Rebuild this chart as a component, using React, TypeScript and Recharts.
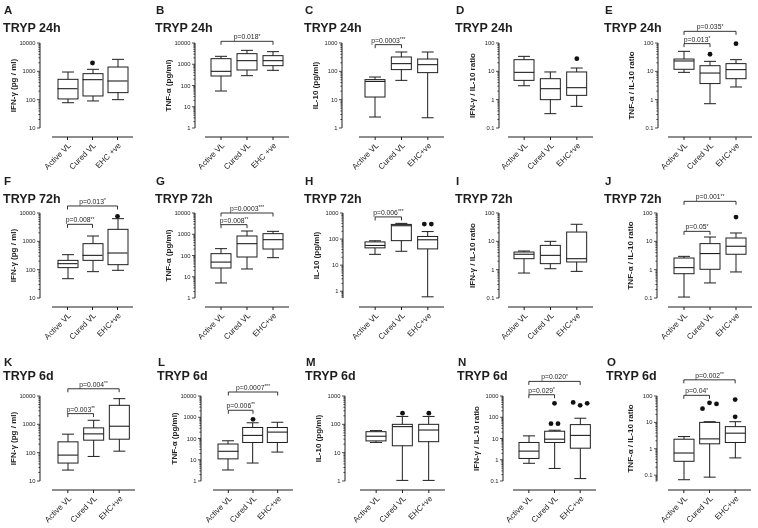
import React from 'react';
import { ComposedChart, Bar, Scatter, XAxis, YAxis, ReferenceLine } from 'recharts';

const FONT = '"Liberation Sans", Arial, Helvetica, sans-serif';
const INK = '#1e1e1e';
const BOX_W = 20;
const CAP_W = 12;
const ROW_TOP = [0, 170, 353];
const ROW_H = [170, 183, 175];
const LETTER_Y = [14, 15, 13];
const TITLE_Y = [32, 33, 27];
const PLOT_TOP = 43;
const PLOT_BOT = 128;
const AXIS_GAP = 9;

const catsSpaced = ['Active VL', 'Cured VL', 'EHC +ve'];
const catsTight = ['Active VL', 'Cured VL', 'EHC+ve'];
const rowTitles = ['TRYP 24h', 'TRYP 72h', 'TRYP 6d'];
const yTitles = ['IFN-γ (pg / ml)', 'TNF-α (pg/ml)', 'IL-10 (pg/ml)', 'IFN-γ / IL-10 ratio', 'TNF-α / IL-10 ratio'];

// [min, Q1, median, Q3, max] for Active VL, Cured VL, EHC+ve
const boxA = [[78, 106, 244, 522, 946], [90, 135, 508, 827, 1177], [100, 177, 456, 1420, 2650]];
const outA = [[], [[1970]], []];
const boxB = [[55, 280, 464, 1830, 2360], [290, 537, 1475, 3150, 4520], [518, 857, 1475, 2535, 3910]];
const sigB = [[0, 2, 12000, 'p=0.018*']];
const boxC = [[2.44, 12.4, 44, 51, 63], [48, 115, 187, 321, 481], [2.3, 90, 172, 272, 481]];
const sigC = [[0, 1, 875, 'p=0.0003***']];
const boxD = [[3.1, 4.8, 9.2, 25.8, 33.8], [0.32, 1.0, 2.44, 5.5, 9.5], [0.58, 1.42, 2.65, 9.5, 13.1]];
const outD = [[], [], [[28]]];
const boxE = [[9.2, 11.8, 23.2, 27.2, 50.8], [0.72, 3.7, 8.7, 15.8, 22.5], [2.8, 5.5, 11.5, 18.7, 25.8]];
const outE = [[], [[40]], [[95]]];
const sigE = [[0, 2, 258, 'p=0.035*'], [0, 1, 95, 'p=0.013*']];

const boxF = [[48, 118, 163, 213, 338], [85, 213, 320, 828, 1540], [95, 150, 387, 2650, 6300]];
const outF = [[], [], [[7630]]];
const sigF = [[0, 2, 17700, 'p=0.013*'], [0, 1, 3980, 'p=0.008**']];
const boxG = [[5.1, 25.8, 49, 122, 210], [23.2, 85, 360, 828, 1420], [79, 202, 556, 1065, 1370]];
const sigG = [[0, 2, 10000, 'p=0.0003***'], [0, 1, 2830, 'p=0.008**']];
const boxH = [[26, 46, 57, 78, 86], [34, 87, 325, 365, 400], [0.61, 42, 94, 126, 194]];
const outH = [[], [], [[376, 376]]];
const sigH = [[0, 1, 708, 'p=0.006***']];
const boxI = [[0.76, 2.44, 3.5, 4.2, 4.56], [1.08, 1.63, 3.2, 7.2, 10], [0.87, 1.87, 2.44, 21.3, 40]];
const boxJ = [[0.108, 0.72, 1.18, 2.58, 2.95], [0.34, 1.03, 3.7, 8.3, 14.2], [0.83, 3.5, 6.7, 13.1, 19.7]];
const outJ = [[], [], [[72]]];
const sigJ = [[0, 2, 258, 'p=0.001**'], [0, 1, 22.5, 'p=0.05*']];

const boxK = [[24.3, 43, 82, 241, 449], [73.6, 276, 461, 750, 1390], [113, 299, 857, 4690, 8050]];
const sigK = [[0, 2, 18000, 'p=0.004**'], [0, 1, 2390, 'p=0.003**']];
const boxL = [[3.3, 11, 25, 55, 78], [7, 65, 140, 330, 550], [23, 65, 200, 330, 580]];
const outL = [[], [[800]], []];
const sigL = [[0, 2, 15400, 'p=0.0007***'], [0, 1, 2130, 'p=0.006**']];
const boxM = [[23, 26, 38, 55, 60], [1.05, 17.5, 83, 100, 190], [1.05, 24.4, 63, 100, 190]];
const outM = [[], [[248]], [[248]]];
const boxN = [[0.68, 1.15, 2.55, 6.5, 13.3], [0.39, 6.5, 9.3, 22, 24.5], [0.13, 3.5, 14, 45, 90]];
const outN = [[], [[450], [50, 50]], [[500, 365, 450]]];
const sigN = [[0, 2, 4870, 'p=0.020*'], [0, 1, 1150, 'p=0.029*']];
const boxO = [[0.067, 0.335, 0.69, 2.3, 2.9], [0.084, 1.54, 2.37, 10, 10.6], [0.45, 1.73, 3.9, 6.9, 10.6]];
const outO = [[], [[33, 55, 50]], [[73], [16.3]]];
const sigO = [[0, 2, 410, 'p=0.002**'], [0, 1, 106, 'p=0.04*']];

const dec10k = [10, 100, 1000, 10000];
const dec1to10k = [1, 10, 100, 1000, 10000];
const dec1to1k = [1, 10, 100, 1000];
const decRatio = [0.1, 1, 10, 100];
const decRatioWide = [0.1, 1, 10, 100, 1000];

type Sig = (number | string)[];
type Panel = {
  letter: string; row: number; col: number; x0: number; axisX: number; xStart: number; xEnd: number;
  cats: string[]; lo: number; hi: number; decades: number[]; box: number[][]; out?: number[][][]; sig?: Sig[];
};

const panels: Panel[] = [
  { letter: 'A', row: 0, col: 0, x0: 0, axisX: 40, xStart: 52, xEnd: 133, cats: catsSpaced, lo: 10, hi: 10000, decades: dec10k, box: boxA, out: outA },
  { letter: 'B', row: 0, col: 1, x0: 152, axisX: 195, xStart: 205, xEnd: 289, cats: catsSpaced, lo: 1, hi: 10000, decades: dec1to10k, box: boxB, sig: sigB },
  { letter: 'C', row: 0, col: 2, x0: 301, axisX: 342, xStart: 359, xEnd: 444, cats: catsTight, lo: 1, hi: 1000, decades: dec1to1k, box: boxC, sig: sigC },
  { letter: 'D', row: 0, col: 3, x0: 452, axisX: 499, xStart: 508, xEnd: 593, cats: catsTight, lo: 0.1, hi: 100, decades: decRatio, box: boxD, out: outD },
  { letter: 'E', row: 0, col: 4, x0: 601, axisX: 658, xStart: 668, xEnd: 752, cats: catsTight, lo: 0.1, hi: 100, decades: decRatio, box: boxE, out: outE, sig: sigE },
  { letter: 'F', row: 1, col: 0, x0: 0, axisX: 40, xStart: 52, xEnd: 133, cats: catsTight, lo: 10, hi: 10000, decades: dec10k, box: boxF, out: outF, sig: sigF },
  { letter: 'G', row: 1, col: 1, x0: 152, axisX: 195, xStart: 205, xEnd: 289, cats: catsTight, lo: 1, hi: 10000, decades: dec1to10k, box: boxG, sig: sigG },
  { letter: 'H', row: 1, col: 2, x0: 301, axisX: 343, xStart: 359, xEnd: 444, cats: catsTight, lo: 0.55, hi: 1000, decades: dec1to1k, box: boxH, out: outH, sig: sigH },
  { letter: 'I', row: 1, col: 3, x0: 452, axisX: 499, xStart: 508, xEnd: 593, cats: catsTight, lo: 0.1, hi: 100, decades: decRatio, box: boxI },
  { letter: 'J', row: 1, col: 4, x0: 601, axisX: 657, xStart: 668, xEnd: 752, cats: catsTight, lo: 0.1, hi: 100, decades: decRatio, box: boxJ, out: outJ, sig: sigJ },
  { letter: 'K', row: 2, col: 0, x0: 0, axisX: 40, xStart: 52, xEnd: 135, cats: catsTight, lo: 10, hi: 10000, decades: dec10k, box: boxK, sig: sigK },
  { letter: 'L', row: 2, col: 1, x0: 154, axisX: 201, xStart: 213, xEnd: 293, cats: catsTight, lo: 1, hi: 10000, decades: dec1to10k, box: boxL, out: outL, sig: sigL },
  { letter: 'M', row: 2, col: 2, x0: 302, axisX: 345, xStart: 360, xEnd: 445, cats: catsTight, lo: 1, hi: 1000, decades: dec1to1k, box: boxM, out: outM },
  { letter: 'N', row: 2, col: 3, x0: 454, axisX: 503, xStart: 513, xEnd: 596, cats: catsTight, lo: 0.1, hi: 1000, decades: decRatioWide, box: boxN, out: outN, sig: sigN },
  { letter: 'O', row: 2, col: 4, x0: 603, axisX: 657, xStart: 668, xEnd: 751, cats: catsTight, lo: 0.06, hi: 100, decades: decRatio, box: boxO, out: outO, sig: sigO },
];

function logTicks(lo: number, hi: number) {
  const t: number[] = [];
  for (let e = Math.floor(Math.log10(lo)); e <= Math.ceil(Math.log10(hi)); e++) {
    for (let m = 1; m < 10; m++) {
      const v = +(m * 10 ** e).toPrecision(3);
      if (v >= lo * 0.999 && v <= hi * 1.001) t.push(v);
    }
  }
  return t;
}

const WhiskerMark = (props: any) => {
  const { x, y, width, height } = props;
  const cx = x + width / 2;
  return (
    <g stroke={INK} strokeWidth={1}>
      <line x1={cx} x2={cx} y1={y} y2={y + height} />
      <line x1={cx - CAP_W / 2} x2={cx + CAP_W / 2} y1={y} y2={y} />
      <line x1={cx - CAP_W / 2} x2={cx + CAP_W / 2} y1={y + height} y2={y + height} />
    </g>
  );
};

const BoxMark = (props: any) => {
  const { x, y, width, height } = props;
  return <rect x={x} y={y} width={width} height={height} fill="#fff" stroke={INK} strokeWidth={1} />;
};

const MedianMark = (props: any) => {
  const { cx, cy } = props;
  if (!Number.isFinite(cy)) return <g />;
  return <line x1={cx - BOX_W / 2} x2={cx + BOX_W / 2} y1={cy} y2={cy} stroke={INK} strokeWidth={1.1} />;
};

const outlierMark = (j: number) => (props: any) => {
  const { cx, cy, payload } = props;
  if (payload['o' + j] == null || !Number.isFinite(cy)) return <g />;
  return <circle cx={cx + payload['s' + j] * 7} cy={cy} r={2.4} fill="#111" />;
};

const XTick = (props: any) => {
  const { x, y, payload } = props;
  const ly = y + AXIS_GAP;
  const tx = x + 4;
  const ty = ly + 9;
  return (
    <g>
      <line x1={x} x2={x} y1={ly} y2={ly + 3} stroke={INK} strokeWidth={1} />
      <text x={tx} y={ty} transform={`rotate(-45 ${tx} ${ty})`} textAnchor="end" fontSize={8} fill={INK} fontFamily={FONT}>
        {payload.value}
      </text>
    </g>
  );
};

const makeYTick = (decades: number[]) => (props: any) => {
  const { x, y, payload } = props;
  const major = decades.includes(payload.value);
  return (
    <g>
      <line x1={x - (major ? 3 : 1.6)} x2={x} y1={y} y2={y} stroke={INK} strokeWidth={0.8} />
      {major && (
        <text x={x - 4.5} y={y} dy={2} textAnchor="end" fontSize={5.8} fill={INK} fontFamily={FONT}>
          {String(payload.value)}
        </text>
      )}
    </g>
  );
};

const bracketShape = (label: string) => (props: any) => {
  const { x1, x2, y1 } = props;
  const l = Math.min(x1, x2);
  const r = Math.max(x1, x2);
  const m = label.match(/^(.*?)(\**)$/) || ['', label, ''];
  return (
    <g>
      <path d={`M${l},${y1 + 3.5}V${y1}H${r}V${y1 + 3.5}`} fill="none" stroke={INK} strokeWidth={0.9} />
      <text x={(l + r) / 2} y={y1 - 2} textAnchor="middle" fontSize={6.8} fontFamily={FONT} fill={INK}>
        {m[1]}
        <tspan fontSize={4.8} dy={-1.8}>{m[2]}</tspan>
      </text>
    </g>
  );
};

function BoxPanel({ p }: { p: Panel }) {
  const rowTop = ROW_TOP[p.row];
  const h = ROW_H[p.row];
  const w = p.xEnd - p.x0 + 3;
  const axisL = p.axisX - p.x0;
  const pad = { left: p.xStart - p.axisX + 3, right: 3 };
  const gap = p.xStart - p.axisX;

  const data = p.cats.map((c, i) => {
    const [mn, q1, md, q3, mx] = p.box[i];
    const row: any = { cat: c, wh: [mn, mx], box: [q1, q3], med: md };
    let j = 0;
    (p.out?.[i] || []).forEach((cl) =>
      cl.forEach((v, k) => {
        row['o' + j] = v;
        row['s' + j] = k - (cl.length - 1) / 2;
        j++;
      })
    );
    return row;
  });
  const outSeries = [0, 1, 2].filter((j) => data.some((d) => d['o' + j] != null));

  return (
    <div style={{ position: 'absolute', left: p.x0, top: rowTop, width: w, height: h }}>
      <ComposedChart width={w} height={h} data={data} margin={{ top: PLOT_TOP, right: 3, bottom: 0, left: 0 }}>
        <XAxis
          dataKey="cat"
          height={h - PLOT_BOT}
          padding={pad}
          axisLine={false}
          tickLine={false}
          tickSize={0}
          tickMargin={0}
          interval={0}
          tick={XTick}
        />
        <XAxis xAxisId="w" dataKey="cat" hide padding={pad} />
        <YAxis
          type="number"
          scale="log"
          domain={[p.lo, p.hi]}
          ticks={logTicks(p.lo, p.hi)}
          interval={0}
          width={axisL}
          axisLine={{ stroke: INK, strokeWidth: 1 }}
          tickLine={false}
          tickSize={0}
          tickMargin={0}
          tick={makeYTick(p.decades)}
        />
        <ReferenceLine
          y={p.lo}
          ifOverflow="visible"
          shape={(sp: any) => {
            const l = Math.min(sp.x1, sp.x2) + gap;
            const r = Math.max(sp.x1, sp.x2);
            return <line x1={l} x2={r} y1={sp.y1 + AXIS_GAP} y2={sp.y1 + AXIS_GAP} stroke={INK} strokeWidth={1} />;
          }}
        />
        <Bar xAxisId="w" dataKey="wh" barSize={BOX_W} shape={WhiskerMark} isAnimationActive={false} />
        <Bar dataKey="box" barSize={BOX_W} shape={BoxMark} isAnimationActive={false} />
        <Scatter dataKey="med" shape={MedianMark} isAnimationActive={false} />
        {outSeries.map((j) => (
          <Scatter key={j} dataKey={'o' + j} shape={outlierMark(j)} isAnimationActive={false} />
        ))}
        {(p.sig || []).map((s, k) => (
          <ReferenceLine
            key={k}
            ifOverflow="visible"
            segment={[
              { x: p.cats[s[0] as number], y: s[2] as number },
              { x: p.cats[s[1] as number], y: s[2] as number },
            ]}
            shape={bracketShape(s[3] as string)}
          />
        ))}
      </ComposedChart>
      <svg width={w} height={h} style={{ position: 'absolute', left: 0, top: 0, pointerEvents: 'none' }}>
        <text x={4} y={LETTER_Y[p.row]} fontSize={11.5} fontWeight="bold" fontFamily={FONT} fill={INK}>
          {p.letter}
        </text>
        <text x={3} y={TITLE_Y[p.row]} fontSize={12.5} fontWeight="bold" fontFamily={FONT} fill={INK}>
          {rowTitles[p.row]}
        </text>
        <text
          x={axisL - 27}
          y={(PLOT_TOP + PLOT_BOT) / 2}
          transform={`rotate(-90 ${axisL - 27} ${(PLOT_TOP + PLOT_BOT) / 2})`}
          textAnchor="middle"
          dy={3}
          fontSize={8}
          fontWeight="bold"
          fontFamily={FONT}
          fill={INK}
        >
          {yTitles[p.col]}
        </text>
      </svg>
    </div>
  );
}

export default function App() {
  return (
    <div
      style={{
        position: 'absolute',
        left: 0,
        top: 0,
        width: 758,
        height: 528,
        background: '#fff',
        overflow: 'hidden',
        willChange: 'transform',
      }}
    >
      {panels.map((p) => (
        <BoxPanel key={p.letter} p={p} />
      ))}
    </div>
  );
}
